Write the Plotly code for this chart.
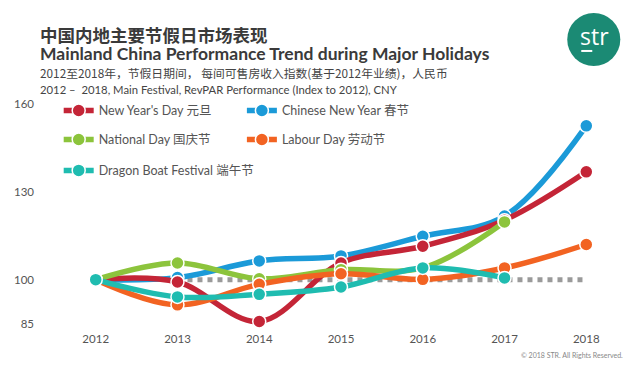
import plotly.graph_objects as go

years = [2012, 2013, 2014, 2015, 2016, 2017, 2018]
new_year = [100, 99.2, 85.7, 105.7, 111.4, 120.3, 136.8]
chinese_ny = [100, 100.7, 106.4, 108.1, 114.8, 121.7, 152.5]
national = [100, 105.7, 100.3, 103.4, 104.0, 119.7]
labour = [100, 91.4, 98.4, 102.0, 100.1, 104.0, 112.0]
dragon = [100, 94.1, 95.0, 97.5, 104.0, 100.6]
baseline_years = [2013, 2018]
baseline = [100, 100]

y_ticks = [85, 100, 130, 160]

names = ["New Year's Day 元旦", "Chinese New Year 春节", "National Day 国庆节",
         "Labour Day 劳动节", "Dragon Boat Festival 端午节"]
colors = ["#c42537", "#1b9ad8", "#8cc43c", "#f26322", "#1fbcb0"]
series = [new_year, chinese_ny, national, labour, dragon]
legend_ids = ["legend", "legend2", "legend3", "legend4", "legend5"]
# legend text anchor positions (window pixels): column x, row y
legend_pos = [(100, 111), (283, 111), (100, 140), (283, 140), (100, 171)]

FONT = "Lato, 'Noto Sans CJK SC', sans-serif"
CJK = "'Noto Sans CJK SC', sans-serif"

# page body has an 8px margin; figure sized to fit the rest of the window
OFF = 8
W, H = 632, 358
# plot area in window pixels
L, R, T, B = 63.3, 618.7, 98.1, 328.4
ML, MR, MT, MB = L - OFF, W - (R - OFF), T - OFF, H - (B - OFF)
PW, PH = W - ML - MR, H - MT - MB


def px(x):
    return (x - OFF - ML) / PW


def py(y):
    return (H - MB - (y - OFF)) / PH


fig = go.Figure()
fig.add_trace(go.Scatter(x=baseline_years, y=baseline, mode="lines",
                         line=dict(color="#9a9a9a", width=5, dash="5px,5px"),
                         showlegend=False, hoverinfo="skip"))

order = [1, 0, 2, 3, 4]
for i in order:
    vals = series[i]
    fig.add_trace(go.Scatter(
        x=years[:len(vals)], y=vals, name=names[i], mode="lines+markers",
        line=dict(color=colors[i], width=5.5, shape="spline", smoothing=1),
        marker=dict(size=13, color=colors[i], line=dict(color="white", width=1.5)),
        legend=legend_ids[i],
    ))

leg_common = dict(orientation="h", xref="paper", yref="paper",
                  xanchor="left", yanchor="middle", itemwidth=30,
                  font=dict(family=FONT, size=12.5, color="#555555"),
                  bgcolor="rgba(0,0,0,0)")
legends = {}
for lid, (lx, ly) in zip(legend_ids, legend_pos):
    legends[lid] = dict(x=px(lx - 41), y=py(ly), **leg_common)
fig.update_layout(**legends)

fig.update_layout(
    width=W, height=H,
    margin=dict(l=ML, r=MR, t=MT, b=MB, autoexpand=False),
    paper_bgcolor="white", plot_bgcolor="white",
    font=dict(family=FONT, color="#555555"),
    xaxis=dict(range=[2011.6, 2018.4], tickvals=years, showgrid=False,
               zeroline=False, showline=False, ticks="",
               tickfont=dict(size=11.5, color="#555555"), ticklabelstandoff=2),
    yaxis=dict(range=[83.5, 162], tickvals=y_ticks, showgrid=False,
               zeroline=False, showline=False, ticks="",
               tickfont=dict(size=11.5, color="#555555"), ticklabelstandoff=28),
    showlegend=True,
)


def note(text, x, y, size, family=FONT, color="#444444", xanchor="left"):
    fig.add_annotation(text=text, x=px(x), y=py(y), xref="paper", yref="paper",
                       xanchor=xanchor, yanchor="middle", showarrow=False,
                       font=dict(family=family, size=size, color=color))


note("<b>中国内地主要节假日市场表现</b>", 38, 35, 17.5, CJK, "#3a3a3a")
note("<b>Mainland China Performance Trend during Major Holidays</b>", 38, 54, 17.5, FONT, "#3a3a3a")
note("2012至2018年，节假日期间， 每间可售房收入指数(基于2012年业绩)，人民币", 38, 73, 11.8, CJK)
note("2012 –  2018, Main Festival, RevPAR Performance (Index to 2012), CNY", 38, 90, 11.3)
note("© 2018 STR. All Rights Reserved.", 625, 355, 7, FONT, "#888888", "right")

# logo
fig.add_shape(type="circle", xref="paper", yref="paper",
              x0=px(567), x1=px(620), y0=py(66), y1=py(13),
              fillcolor="#1b8a74", line=dict(width=0), layer="above")
note("str", 594, 36, 23, "'Open Sans'", "white", "center")
fig.add_shape(type="line", xref="paper", yref="paper",
              x0=px(581), x1=px(592), y0=py(51), y1=py(51),
              line=dict(color="white", width=2), layer="above")

fig.write_html("out.html")
